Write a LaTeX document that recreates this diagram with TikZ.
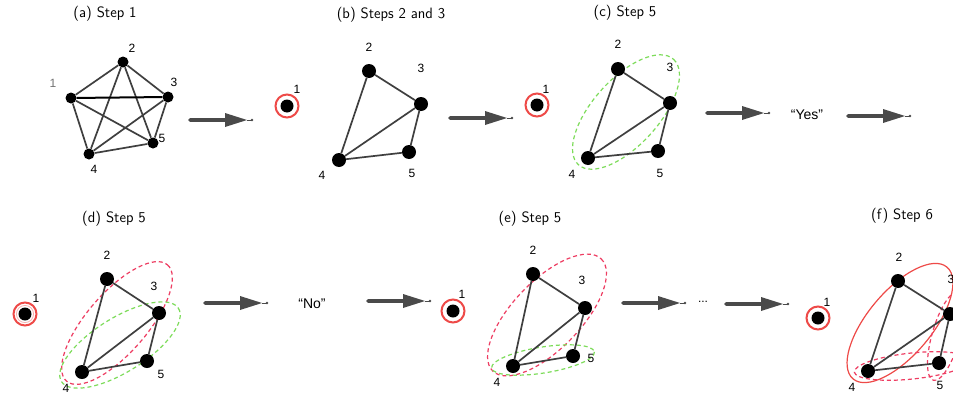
\documentclass[tikz,border=0pt]{standalone}
\usepackage{fontspec}
\newfontfamily\lab{Liberation Sans}
\usetikzlibrary{calc}
\definecolor{edgegray}{HTML}{3F3F3F}
\definecolor{arrgray}{HTML}{4A4A4A}
\definecolor{ringred}{HTML}{EE4A48}
\definecolor{dashred}{HTML}{EE3D62}
\definecolor{dashgreen}{HTML}{7DDC5A}
\tikzset{
 vtx/.style={circle,fill=black,inner sep=0pt,minimum size=14pt},
 vtxs/.style={circle,fill=black,inner sep=0pt,minimum size=11pt},
 lbl/.style={font=\lab\fontsize{12}{12}\selectfont,inner sep=0pt},
 ttl/.style={font=\sffamily\fontsize{15}{15}\selectfont,inner sep=0pt},
 quot/.style={font=\lab\fontsize{14}{14}\selectfont,inner sep=0pt},
 gedge/.style={draw=edgegray,line width=1.7pt},
 ringc/.style={draw=ringred,line width=2pt},
 gdash/.style={draw=dashgreen,line width=1.2pt,dash pattern=on 4pt off 3pt},
 rdash/.style={draw=dashred,line width=1.2pt,dash pattern=on 4pt off 3pt},
 rsolid/.style={draw=ringred,line width=1.2pt},
}
\newcommand\flowarrow[2]{%
  \fill[arrgray] (#1) circle (1.8pt);
  \draw[arrgray,line width=4.5pt] (#1) -- ($(#2)+(-25,0)$);
  \fill[arrgray] ($(#2)+(-27,7)$) -- ($(#2)+(-5,0)$) -- ($(#2)+(-27,-7)$) -- cycle;
  \draw[arrgray,line width=0.8pt] ($(#2)+(-5,0)$) -- (#2);
  \fill[arrgray] (#2) circle (1.3pt);
}
\newcommand\ringnode[3]{% name, x, y
  \node[vtx,minimum size=13pt] (#1) at (#2,#3) {};
  \draw[ringc] (#1.center) circle (11.5pt);
}
\begin{document}
\begin{tikzpicture}[x=1pt,y=-1pt]
\useasboundingbox (0,0) rectangle (953,399);
\clip (0,0) rectangle (953,399);
\fill[white] (0,0) rectangle (953,399);

% ---------- (a)
\node[ttl] (ta) at (105,14) {(a) Step 1};
\node[vtxs] (a1) at (71,98) {};
\node[vtxs] (a2) at (123,62) {};
\node[vtxs] (a3) at (168,97) {};
\node[vtxs] (a4) at (89,154) {};
\node[vtxs] (a5) at (153,143) {};
\draw[gedge] (a1)--(a2) (a1)--(a4) (a1)--(a5) (a2)--(a3) (a2)--(a4) (a2)--(a5)
  (a3)--(a4) (a3)--(a5) (a4)--(a5);
\draw[draw=black,line width=2pt] (a1)--(a3);
\node[lbl,text=black!55] (la1) at (53,83) {1};
\node[lbl] (la2) at (132,48) {2};
\node[lbl] (la3) at (174,82) {3};
\node[lbl] (la4) at (94,169) {4};
\node[lbl] (la5) at (162,138) {5};

\coordinate (s1) at (190,120); \coordinate (e1) at (252,120);
\flowarrow{s1}{e1}
\ringnode{r1}{287}{106}
\node[lbl] (lr1) at (297,89) {1};

% ---------- (b)
\node[ttl] (tb) at (391,15) {(b) Steps 2 and 3};
\node[vtx] (b2) at (369,71) {};
\node[vtx] (b3) at (421,104) {};
\node[vtx] (b4) at (339,160) {};
\node[vtx] (b5) at (409,152) {};
\draw[gedge] (b2)--(b3) (b2)--(b4) (b3)--(b4) (b3)--(b5) (b4)--(b5);
\node[lbl] (lb2) at (369,47) {2};
\node[lbl] (lb3) at (421,68) {3};
\node[lbl] (lb4) at (322,175) {4};
\node[lbl] (lb5) at (412,173) {5};

\coordinate (s2) at (450,118); \coordinate (e2) at (512,118);
\flowarrow{s2}{e2}
\ringnode{r2}{537}{105}
\node[lbl] (lr2) at (546,89) {1};

% ---------- (c)
\node[ttl] (tc) at (625,13) {(c) Step 5};
\coordinate (ec) at (626,112);
\draw[gdash,rotate around={48:(ec)}] (ec) ellipse [x radius=71, y radius=33];
\node[vtx] (c2) at (618,69) {};
\node[vtx] (c3) at (670,103) {};
\node[vtx] (c4) at (588,158) {};
\node[vtx] (c5) at (658,151) {};
\draw[gedge] (c2)--(c3) (c2)--(c4) (c3)--(c4) (c3)--(c5) (c4)--(c5);
\node[lbl] (lc2) at (618,44) {2};
\node[lbl] (lc3) at (670,67) {3};
\node[lbl] (lc4) at (572,174) {4};
\node[lbl] (lc5) at (660,173) {5};

\coordinate (s3) at (707,113); \coordinate (e3) at (769,113);
\flowarrow{s3}{e3}
\node[quot] (yes) at (807,115) {“Yes”};
\coordinate (s4) at (848,116); \coordinate (e4) at (910,116);
\flowarrow{s4}{e4}

% ---------- (d)
\node[ttl] (td) at (114,219) {(d) Step 5};
\node[vtx,minimum size=13pt] (r4) at (25,314) {};
\draw[ringc] (r4.center) circle (11.5pt);
\draw[draw=ringred!45,line width=0.7pt] (r4.center) circle (8.6pt);
\node[lbl] (lr4) at (36,298) {1};
\coordinate (ed1) at (117,323);
\draw[rdash,rotate around={49:(ed1)}] (ed1) ellipse [x radius=77, y radius=30];
\coordinate (ed2) at (120,345);
\draw[gdash,rotate around={32:(ed2)}] (ed2) ellipse [x radius=69, y radius=27];
\node[vtx] (d2) at (107,279) {};
\node[vtx] (d3) at (159,313) {};
\node[vtx] (d4) at (82,372) {};
\node[vtx] (d5) at (147,361) {};
\draw[gedge] (d2)--(d3) (d2)--(d4) (d3)--(d4) (d3)--(d5) (d4)--(d5);
\node[lbl] (ld2) at (107,255) {2};
\node[lbl] (ld3) at (154,286) {3};
\node[lbl] (ld4) at (66,388) {4};
\node[lbl] (ld5) at (161,374) {5};

\coordinate (s5) at (205,303); \coordinate (e5) at (267,303);
\flowarrow{s5}{e5}
\node[quot] (no) at (312,304) {“No”};
\coordinate (s6) at (368,301); \coordinate (e6) at (430,301);
\flowarrow{s6}{e6}
\ringnode{r5}{453}{311}
\node[lbl] (lr5) at (462,294) {1};

% ---------- (e)
\node[ttl] (te) at (530,219) {(e) Step 5};
\coordinate (ee1) at (547,315);
\draw[rdash,rotate around={46:(ee1)}] (ee1) ellipse [x radius=78, y radius=34];
\coordinate (ee2) at (543,360);
\draw[gdash,rotate around={9:(ee2)}] (ee2) ellipse [x radius=52, y radius=13];
\node[vtx] (f2) at (533,274) {};
\node[vtx] (f3) at (585,308) {};
\node[vtx] (f4) at (513,366) {};
\node[vtx] (f5) at (573,356) {};
\draw[gedge] (f2)--(f3) (f2)--(f4) (f3)--(f4) (f3)--(f5) (f4)--(f5);
\node[lbl] (lf2) at (533,250) {2};
\node[lbl] (lf3) at (582,280) {3};
\node[lbl] (lf4) at (497,382) {4};
\node[lbl] (lf5) at (591,358) {5};

\coordinate (s7) at (623,303); \coordinate (e7) at (685,303);
\flowarrow{s7}{e7}
\node[lbl] (dots) at (703,302) {...};
\coordinate (s8) at (726,304); \coordinate (e8) at (788,304);
\flowarrow{s8}{e8}
\ringnode{r6}{818}{318}
\node[lbl] (lr6) at (827,302) {1};

% ---------- (f)
\node[ttl] (tf) at (902,216) {(f) Step 6};
\coordinate (eg1) at (900,323);
\draw[rsolid,rotate around={50:(eg1)}] (eg1) ellipse [x radius=73, y radius=32];
\coordinate (eg2) at (912,366);
\draw[rdash,rotate around={6:(eg2)}] (eg2) ellipse [x radius=58, y radius=13];
\coordinate (eg3) at (946,336);
\draw[rdash,rotate around={74:(eg3)}] (eg3) ellipse [x radius=46, y radius=14];
\node[vtx] (g2) at (898,281) {};
\node[vtx] (g3) at (950,314) {};
\node[vtx] (g4) at (868,371) {};
\node[vtx] (g5) at (939,363) {};
\draw[gedge] (g2)--(g3) (g2)--(g4) (g3)--(g4) (g3)--(g5) (g4)--(g5);
\node[lbl] (lg2) at (899,257) {2};
\node[lbl] (lg3) at (951,279) {3};
\node[lbl] (lg4) at (852,387) {4};
\node[lbl] (lg5) at (940,385) {5};
\end{tikzpicture}
\end{document}
